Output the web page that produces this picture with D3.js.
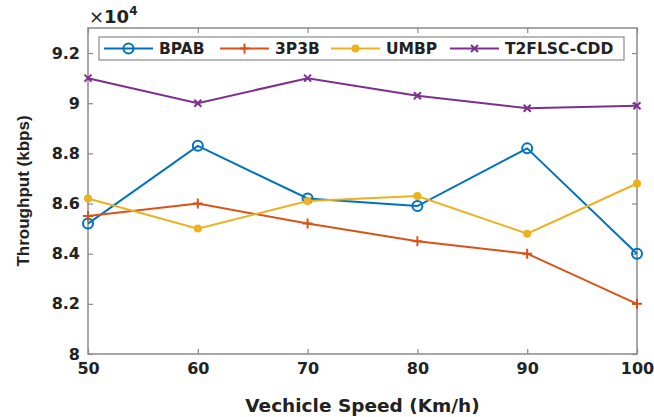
<!DOCTYPE html>
<html>
<head>
<meta charset="utf-8">
<script src="https://cdn.jsdelivr.net/npm/d3@7"></script>
<style>
  body { margin: 0; background: #fff; }
  text { font-family: "DejaVu Sans", Arial, sans-serif; font-weight: bold; fill: #222; }
</style>
</head>
<body>
<div id="chart"></div>
<script>
// data (throughput in units of 1e4 kbps)
const speeds = [50, 60, 70, 80, 90, 100];
const bpab = [8.52, 8.83, 8.62, 8.59, 8.82, 8.40];
const p3b = [8.55, 8.60, 8.52, 8.45, 8.40, 8.20];
const umbp = [8.62, 8.50, 8.61, 8.63, 8.48, 8.68];
const t2flsc = [9.10, 9.00, 9.10, 9.03, 8.98, 8.99];
const yTicks = [8, 8.2, 8.4, 8.6, 8.8, 9, 9.2];
const seriesNames = ['BPAB', '3P3B', 'UMBP', 'T2FLSC-CDD'];

const series = [
  { name: seriesNames[0], vals: bpab, color: '#0072BD', marker: 'circle' },
  { name: seriesNames[1], vals: p3b, color: '#D95319', marker: 'plus' },
  { name: seriesNames[2], vals: umbp, color: '#EDB120', marker: 'dot' },
  { name: seriesNames[3], vals: t2flsc, color: '#7E2F8E', marker: 'cross' }
];

const W = 654, H = 417;
const m = { left: 88, right: 17, top: 28, bottom: 63 };

const svg = d3.select('#chart').append('svg')
  .attr('width', W).attr('height', H);

const x = d3.scaleLinear().domain([50, 100]).range([m.left, W - m.right]);
const y = d3.scaleLinear().domain([8, 9.3]).range([H - m.bottom, m.top]);

const axisCol = '#8a8a8a';

// axes box
svg.append('rect')
  .attr('x', m.left).attr('y', m.top)
  .attr('width', W - m.right - m.left).attr('height', H - m.bottom - m.top)
  .attr('fill', 'none').attr('stroke', axisCol).attr('stroke-width', 1.5);

svg.append('g').attr('transform', `translate(0,${H - m.bottom})`)
  .call(d3.axisBottom(x).tickValues(speeds).tickSize(-5).tickPadding(9));
svg.append('g').attr('transform', `translate(${m.left},0)`)
  .call(d3.axisLeft(y).tickValues(yTicks).tickSize(-5).tickPadding(8).tickFormat(d3.format('~g')));
// top & right ticks
svg.append('g').attr('transform', `translate(0,${m.top})`)
  .call(d3.axisTop(x).tickValues(speeds).tickSize(-5).tickFormat(''));
svg.append('g').attr('transform', `translate(${W - m.right},0)`)
  .call(d3.axisRight(y).tickValues(yTicks).tickSize(-5).tickFormat(''));

svg.selectAll('.domain').remove();
svg.selectAll('.tick line').attr('stroke', axisCol).attr('stroke-width', 1.2);
svg.selectAll('.tick text').style('font-size', '16px').attr('fill', '#222')
  .style('font-family', '"DejaVu Sans", Arial, sans-serif').style('font-weight', 'bold');

// x10^4 label
const ex = svg.append('text').attr('x', m.left + 1).attr('y', 23).style('font-size', '18px');
ex.append('tspan').style('font-weight', 'normal').text('\u00d7');
ex.append('tspan').text('10');
ex.append('tspan').attr('dy', -8).style('font-size', '12px').text('4');

// axis titles
svg.append('text')
  .attr('x', x(75)).attr('y', 412)
  .attr('text-anchor', 'middle').style('font-size', '18.5px')
  .text('Vechicle Speed (Km/h)');
svg.append('text')
  .attr('transform', `translate(29,${y(8.65)}) rotate(-90)`)
  .attr('text-anchor', 'middle')
  .style('font-family', '"Liberation Sans", Arial, sans-serif').style('font-size', '17px')
  .text('Throughput (kbps)');

function drawMarker(g, type, color) {
  if (type === 'circle') {
    g.append('circle').attr('r', 5).attr('fill', 'none').attr('stroke', color).attr('stroke-width', 2);
  } else if (type === 'plus') {
    g.append('path').attr('d', 'M-5,0H5M0,-5V5').attr('stroke', color).attr('stroke-width', 2);
  } else if (type === 'dot') {
    g.append('circle').attr('r', 4).attr('fill', color);
  } else {
    g.append('path').attr('d', 'M-3.5,-3.5L3.5,3.5M-3.5,3.5L3.5,-3.5').attr('stroke', color).attr('stroke-width', 2);
  }
}

const line = d3.line().x((d, i) => x(speeds[i])).y(d => y(d));

series.forEach(s => {
  svg.append('path').datum(s.vals)
    .attr('d', line).attr('fill', 'none')
    .attr('stroke', s.color).attr('stroke-width', 2);
  s.vals.forEach((v, i) => {
    const g = svg.append('g').attr('transform', `translate(${x(speeds[i])},${y(v)})`);
    drawMarker(g, s.marker, s.color);
  });
});

// legend
const lg = svg.append('g');
lg.append('rect').attr('x', 99).attr('y', 37).attr('width', 525).attr('height', 23)
  .attr('fill', '#fff').attr('stroke', axisCol).attr('stroke-width', 1.2);
const legendX = [104, 220, 331, 450];
series.forEach((s, i) => {
  const lx = legendX[i], ly = 48.5;
  lg.append('line').attr('x1', lx).attr('x2', lx + 49).attr('y1', ly).attr('y2', ly)
    .attr('stroke', s.color).attr('stroke-width', 2);
  const g = lg.append('g').attr('transform', `translate(${lx + 24.5},${ly})`);
  drawMarker(g, s.marker, s.color);
  lg.append('text').attr('x', lx + 55).attr('y', ly + 5.5).style('font-size', '15.5px').text(s.name);
});
</script>
</body>
</html>
